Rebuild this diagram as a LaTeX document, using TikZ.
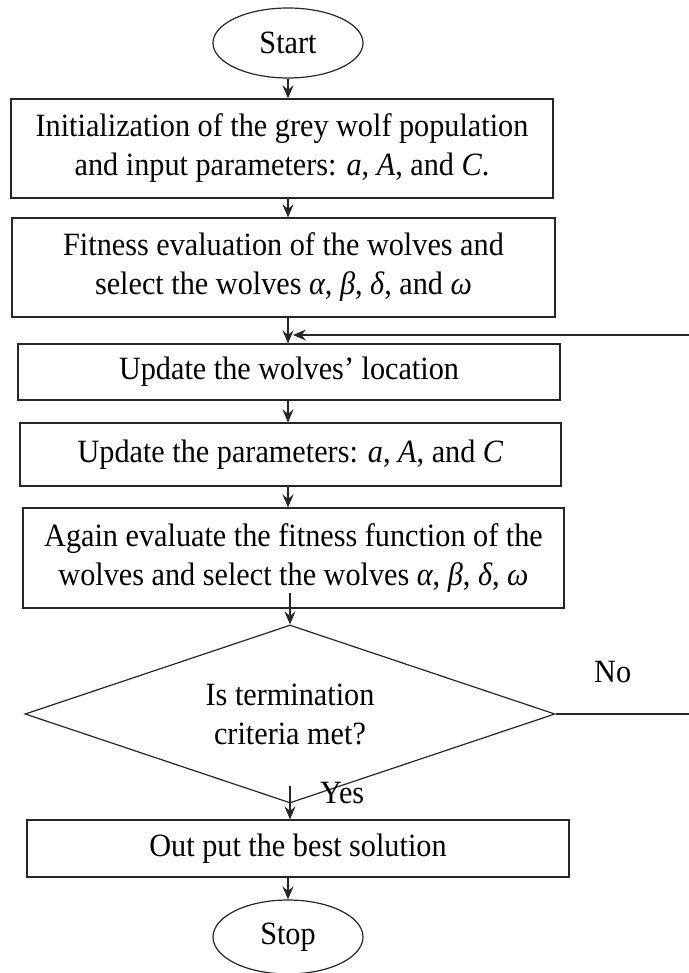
\documentclass[tikz,border=0pt]{standalone}
\usepackage{fontspec}
\setmainfont[FakeStretch=0.93]{Liberation Serif}
\usetikzlibrary{shapes.geometric,arrows.meta}
\begin{document}
\begin{tikzpicture}[x=1pt,y=-1pt,
  every node/.style={font=\fontsize{32.5}{39}\selectfont, inner sep=0pt},
  box/.style={draw=black!85, line width=1.2pt, rectangle, align=center},
  term/.style={draw=black!85, line width=1.2pt, ellipse, minimum width=150pt, minimum height=70pt},
  dec/.style={draw=black!85, line width=1.2pt, diamond, aspect=2.98, minimum width=530pt, minimum height=178pt, align=center},
  arr/.style={draw=black!85, line width=1.2pt, -{Stealth[length=13pt,width=11pt,inset=4.5pt]}},
  lin/.style={draw=black!85, line width=1.2pt}]
\useasboundingbox (0,0) rectangle (688,973);
\coordinate (spine) at (288,0);

\node[term] (start) at (288,43) {Start};
\node[box, minimum width=542pt, minimum height=99pt] (b1) at (282,148.5)
  {Initialization of the grey wolf population\\and input parameters: \textit{a}, \textit{A}, and \textit{C}.};
\node[box, minimum width=543pt, minimum height=99pt] (b2) at (283.5,267.5)
  {Fitness evaluation of the wolves and\\select the wolves \textit{α}, \textit{β}, \textit{δ}, and \textit{ω}};
\node[box, minimum width=542pt, minimum height=56pt] (b3) at (289,372)
  {Update the wolves’ location};
\node[box, minimum width=541pt, minimum height=63pt] (b4) at (290.5,454.5)
  {Update the parameters: \textit{a}, \textit{A}, and \textit{C}};
\node[box, minimum width=541pt, minimum height=100pt] (b5) at (293.5,558)
  {Again evaluate the fitness function of the\\wolves and select the wolves \textit{α}, \textit{β}, \textit{δ}, \textit{ω}};
\node[dec] (dia) at (290,714) {Is termination\\criteria met?};
\node[box, minimum width=542pt, minimum height=57pt] (b6) at (298,848.5)
  {Out put the best solution};
\node[term, minimum height=74pt] (stop) at (288,937) {Stop};

\node[anchor=base west] (no) at (594,682) {No};
\node[anchor=base west] (yes) at (320,803) {Yes};

\coordinate (join) at (293,335);
\coordinate (fbbot) at (700,714);
\coordinate (fbtop) at (700,335);

\draw[arr] (start.south) -- (start.south |- b1.north);
\draw[arr] (b1.south -| spine) -- (b2.north -| spine);
\draw[arr] (b2.south -| spine) -- (b3.north -| spine);
\draw[arr] (b3.south -| spine) -- (b4.north -| spine);
\draw[arr] (b4.south -| spine) -- (b5.north -| spine);
\draw[arr] ([yshift=16pt]b5.south -| dia.north) -- (dia.north);
\draw[arr] ([yshift=18pt]dia.south) -- (dia.south |- b6.north);
\draw[arr] (b6.south -| spine) -- (stop.north);
\draw[arr] (dia.east) -- (fbbot) -- (fbtop) -- (join);
\end{tikzpicture}
\end{document}
